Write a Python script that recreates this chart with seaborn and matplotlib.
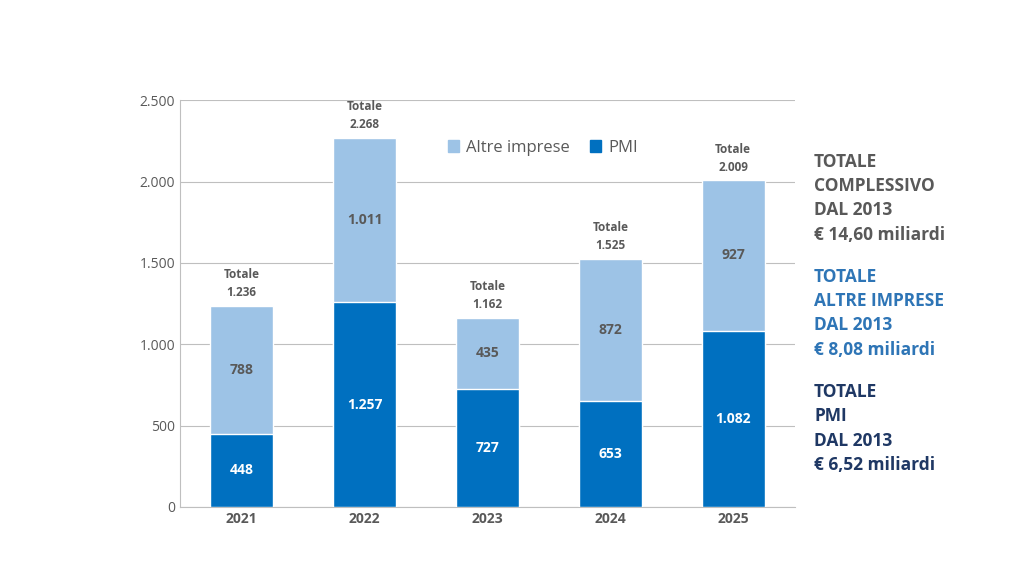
import matplotlib
matplotlib.use("Agg")
import numpy as np
import pandas as pd
import seaborn as sns
from matplotlib import pylab as plt
from matplotlib.patches import Patch

years = ["2021", "2022", "2023", "2024", "2025"]
pmi = [448, 1257, 727, 653, 1082]
altre = [788, 1011, 435, 872, 927]
totals = [1236, 2268, 1162, 1525, 2009]

C_PMI = "#0070C0"
C_ALTRE = "#9DC3E6"
C_TEXT = "#595959"


def it_fmt(v):
    return f"{int(v):,}".replace(",", ".")


sns.set_style("white")
plt.rcParams["font.family"] = ["Open Sans", "DejaVu Sans"]

df = pd.DataFrame({"year": years, "pmi": pmi, "altre": altre, "total": totals})

fig = plt.figure(figsize=(10.24, 5.76), dpi=100)
ax = fig.add_axes([0.176, 0.12, 0.6, 0.706])

sns.barplot(data=df, x="year", y="total", color=C_ALTRE, width=0.51,
            saturation=1, ax=ax, zorder=3)
sns.barplot(data=df, x="year", y="pmi", color=C_PMI, width=0.51,
            saturation=1, ax=ax, zorder=4)

ax.set_ylim(0, 2500)
ax.set_yticks(range(0, 2501, 500))
ax.set_yticklabels([it_fmt(t) for t in range(0, 2501, 500)], color=C_TEXT, fontsize=10)
ax.set_xticks(range(len(years)))
ax.set_xticklabels(years, fontweight="bold", color=C_TEXT, fontsize=10)
ax.set_xlabel("")
ax.set_ylabel("")
ax.yaxis.grid(True, color="#BFBFBF", linewidth=0.8, zorder=0)
ax.set_axisbelow(True)
for s in ["top", "right"]:
    ax.spines[s].set_visible(False)
ax.spines["left"].set_color("#BFBFBF")
ax.spines["bottom"].set_color("#BFBFBF")
ax.tick_params(length=0)

for i in range(len(years)):
    ax.text(i, pmi[i] / 2, it_fmt(pmi[i]), ha="center", va="center",
            color="white", fontweight="bold", fontsize=10, zorder=5)
    ax.text(i, pmi[i] + altre[i] / 2, it_fmt(altre[i]), ha="center",
            va="center", color=C_TEXT, fontweight="bold", fontsize=10, zorder=5)
    ax.text(i, totals[i] + 40, f"Totale\n{it_fmt(totals[i])}", ha="center",
            va="bottom", color=C_TEXT, fontweight="bold", fontsize=8.5,
            linespacing=1.5, zorder=5)

handles = [Patch(color=C_ALTRE, label="Altre imprese"), Patch(color=C_PMI, label="PMI")]
ax.legend(handles=handles, loc="upper center", bbox_to_anchor=(0.59, 0.94),
          ncol=2, frameon=False, fontsize=12, handlelength=0.7,
          handleheight=0.7, columnspacing=1.2, handletextpad=0.4,
          labelcolor=C_TEXT)

fig.text(0.795, 0.735, "TOTALE\nCOMPLESSIVO\nDAL 2013\n€ 14,60 miliardi",
         color="#595959", fontweight="bold", fontsize=12.5, va="top",
         linespacing=1.45)
fig.text(0.795, 0.535, "TOTALE\nALTRE IMPRESE\nDAL 2013\n€ 8,08 miliardi",
         color="#2E75B6", fontweight="bold", fontsize=12.5, va="top",
         linespacing=1.45)
fig.text(0.795, 0.335, "TOTALE\nPMI\nDAL 2013\n€ 6,52 miliardi",
         color="#1F3864", fontweight="bold", fontsize=12.5, va="top",
         linespacing=1.45)

fig.savefig("out.png", dpi=100)
